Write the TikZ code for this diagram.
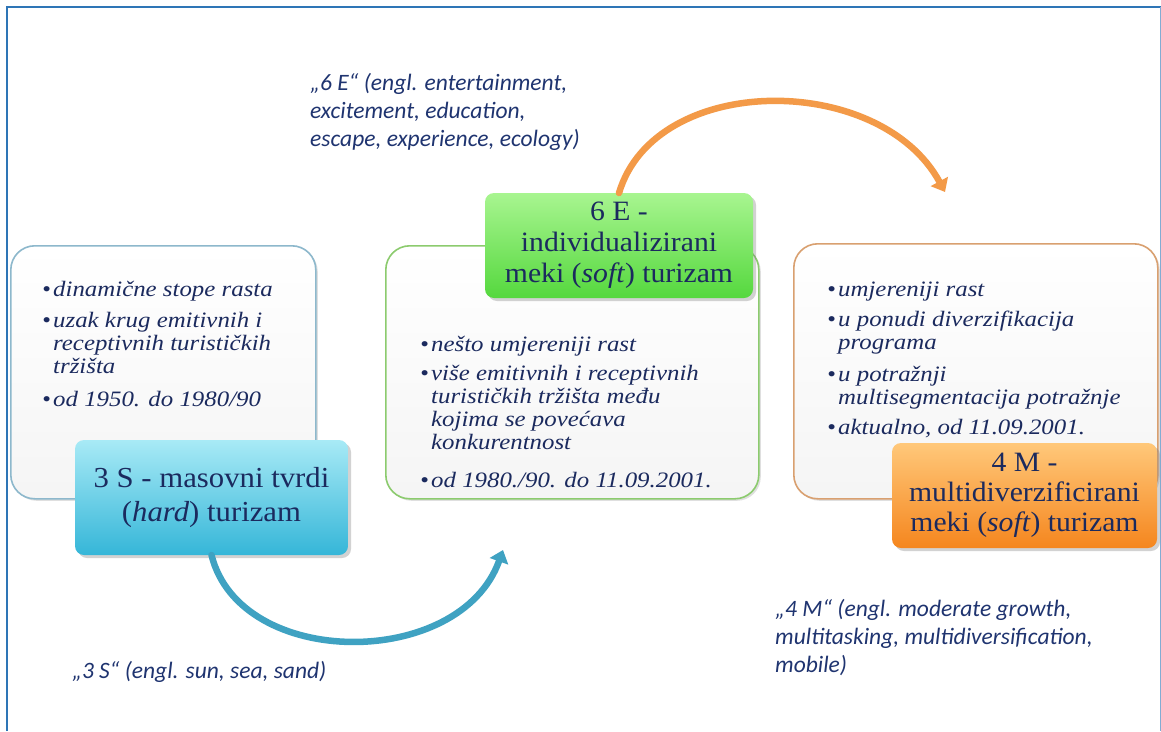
\documentclass[tikz,border=0pt]{standalone}
\usepackage{fontspec}
\setmainfont{Liberation Serif}
\newfontfamily\titlefont{Liberation Serif}[FakeStretch=1.06]
\newfontfamily\listfont{Liberation Serif}[FakeStretch=1.13]
\newfontfamily\capfont{Carlito}
\usetikzlibrary{arrows.meta,shadows}

\definecolor{ink}{HTML}{1B2A5E}
\definecolor{capink}{HTML}{1F3470}
\definecolor{frameblue}{HTML}{2E75B6}
\definecolor{blueedge}{HTML}{8DB8CC}
\definecolor{greenedge}{HTML}{8CCB6E}
\definecolor{orangeedge}{HTML}{D9A070}
\definecolor{bluetop}{HTML}{A8EAF6}
\definecolor{bluebot}{HTML}{35B6D8}
\definecolor{greentop}{HTML}{A8F590}
\definecolor{greenbot}{HTML}{55D83E}
\definecolor{orangetop}{HTML}{FFC87A}
\definecolor{orangebot}{HTML}{F5861E}
\definecolor{bluearrow}{HTML}{3FA2C2}
\definecolor{orangearrow}{HTML}{F39A48}

\newcommand\bl{\makebox[11pt][l]{\textbullet}}
\newcommand\ind{\hspace*{11pt}}

\tikzset{
  panel/.style={draw=#1, line width=1.6pt, rounded corners=24pt,
    top color=white, bottom color=black!4, anchor=north west,
    inner sep=0pt, drop shadow={shadow xshift=2pt, shadow yshift=-2pt, opacity=0.25}},
  titlebox/.style={line width=0pt, rounded corners=9pt, anchor=north west,
    inner sep=0pt, align=center, text=ink,
    font=\titlefont\fontsize{28}{31}\selectfont,
    drop shadow={shadow xshift=3pt, shadow yshift=-3pt, opacity=0.35}},
  bullets/.style={anchor=north west, inner sep=0pt, align=left, text=ink,
    font=\listfont\fontsize{22}{23}\selectfont\itshape},
  caption/.style={anchor=north west, inner sep=0pt, align=left, text=capink,
    font=\capfont\fontsize{23.5}{28}\selectfont\itshape},
  flow/.style={line width=6.5pt, line cap=round,
    -{Triangle[length=12pt,width=19pt]}},
}

\begin{document}
\begin{tikzpicture}[x=1pt,y=-1pt]
  \useasboundingbox (0,0) rectangle (1161,731);
  \fill[white] (0,0) rectangle (1161,731);

  % page frame
  \draw[frameblue, line width=1.5pt] (7,731) -- (7,7) -- (1161,7);
  \draw[frameblue!60, line width=1pt] (1160,7) -- (1160,731);

  % white panels
  \node[panel=blueedge, minimum width=305pt, minimum height=253pt] (p1) at (10,245) {};
  \node[panel=greenedge, minimum width=373pt, minimum height=253pt] (p2) at (385,245) {};
  \node[panel=orangeedge, minimum width=364pt, minimum height=255pt] (p3) at (793,243) {};

  % bullet lists
  \node[bullets] (l1) at (42,281) {%
    \bl dinamične stope rasta\\[8pt]
    \bl uzak krug emitivnih i\\
    \ind receptivnih turističkih\\
    \ind tržišta\\[10pt]
    \bl od 1950. do 1980/90};
  \node[bullets] (l2) at (420,336) {%
    \bl nešto umjereniji rast\\[6pt]
    \bl više emitivnih i receptivnih\\
    \ind turističkih tržišta među\\
    \ind kojima se povećava\\
    \ind konkurentnost\\[15pt]
    \bl od 1980./90. do 11.09.2001.};
  \node[bullets] (l3) at (827,282) {%
    \bl umjereniji rast\\[7pt]
    \bl u ponudi diverzifikacija\\
    \ind programa\\[9pt]
    \bl u potražnji\\
    \ind multisegmentacija potražnje\\[7pt]
    \bl aktualno, od 11.09.2001.};

  % coloured title boxes
  \node[titlebox, top color=bluetop, bottom color=bluebot,
        minimum width=273pt, minimum height=115pt,
        font=\titlefont\fontsize{29}{34}\selectfont] (t1) at (75,440)
        {3 S - masovni tvrdi\\(\textit{hard}) turizam};
  \node[titlebox, top color=greentop, bottom color=greenbot,
        minimum width=268pt, minimum height=105pt] (t2) at (485,193)
        {6 E -\\individualizirani\\meki (\textit{soft}) turizam};
  \node[titlebox, top color=orangetop, bottom color=orangebot,
        minimum width=265pt, minimum height=105pt,
        font=\titlefont\fontsize{28}{30}\selectfont] (t3) at (892,443)
        {4 M -\\multidiverzificirani\\meki (\textit{soft}) turizam};

  % arrow end points
  \coordinate (e1) at (503,550);
  \coordinate (e2) at (945,192);

  % connecting arrows
  \draw[flow, bluearrow] (t1.south) .. controls (240,670) and (460,670) .. (e1);
  \draw[flow, orangearrow] (t2.north) .. controls (655,72) and (880,72) .. (e2);

  % captions
  \node[caption] (c2) at (310,73) {„6 E“ (engl. entertainment,\\excitement, education,\\escape, experience, ecology)};
  \node[caption] (c1) at (72,661) {„3 S“ (engl. sun, sea, sand)};
  \node[caption] (c3) at (775,599) {„4 M“ (engl. moderate growth,\\multitasking, multidiversification,\\mobile)};
\end{tikzpicture}
\end{document}
